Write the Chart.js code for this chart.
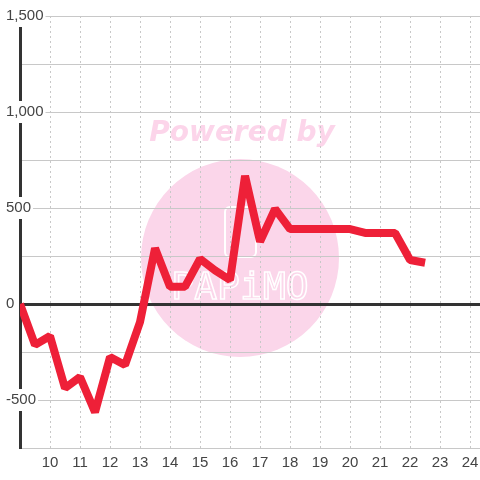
<!DOCTYPE html>
<html>
<head>
<meta charset="utf-8">
<script src="https://cdn.jsdelivr.net/npm/chart.js@4"></script>
<style>
  html, body { margin: 0; padding: 0; background: #ffffff; }
  #wrap { width: 480px; height: 480px; }
</style>
</head>
<body>
<div id="wrap"><canvas id="grafica" width="480" height="480"></canvas></div>
<script>
// data
var xValues = [9, 9.5, 10, 10.5, 11, 11.5, 12, 12.5, 13, 13.5, 14, 14.5, 15, 15.5,
               16, 16.5, 17, 17.5, 18, 18.5, 19, 19.5, 20, 20.5, 21, 21.5, 22, 22.5];
var yValues = [0, -213, -167, -438, -380, -563, -276, -318, -94, 290, 90, 90, 235, 175,
               125, 667, 325, 495, 390, 390, 390, 390, 390, 370, 370, 370, 229, 215];
var xTicks = [10, 11, 12, 13, 14, 15, 16, 17, 18, 19, 20, 21, 22, 23, 24];
var yTicks = [-750, -500, -250, 0, 250, 500, 750, 1000, 1250, 1500];
var yLabelTicks = [-500, 0, 500, 1000, 1500];

var points = xValues.map(function (x, i) { return { x: x, y: yValues[i] }; });

// pink watermark behind the grid
var watermark = {
  id: 'watermark',
  beforeDraw: function (chart) {
    var ctx = chart.ctx;
    ctx.save();
    ctx.fillStyle = '#fbd6ea';
    ctx.beginPath();
    ctx.arc(240, 258, 99, 0, Math.PI * 2);
    ctx.fill();
    ctx.font = 'italic bold 28px "DejaVu Sans"';
    ctx.textAlign = 'center';
    ctx.textBaseline = 'middle';
    ctx.fillStyle = '#fcd5ea';
    ctx.fillText('Powered by', 242, 134);
    ctx.strokeStyle = '#ffffff';
    ctx.lineWidth = 2;
    ctx.beginPath();
    ctx.roundRect(225, 207, 31, 50, 5);
    ctx.stroke();
    ctx.lineWidth = 1.5;
    ctx.font = '38px "DejaVu Sans Mono"';
    ctx.strokeText('PAPiMO', 240, 289);
    ctx.restore();
  }
};

var micanvas = document.getElementById('grafica').getContext('2d');
var chart = new Chart(micanvas, {
  type: 'line',
  data: {
    datasets: [{
      label: 'serie',
      data: points,
      borderColor: '#ee2038',
      borderWidth: 8,
      borderJoinStyle: 'bevel',
      pointRadius: 0,
      tension: 0,
      fill: false
    }]
  },
  options: {
    responsive: false,
    animation: false,
    layout: { padding: { left: 6, top: 16, right: 0, bottom: 0 } },
    plugins: { legend: { display: false }, tooltip: { enabled: false } },
    scales: {
      x: {
        type: 'linear',
        min: 9,
        max: 24.33,
        afterBuildTicks: function (scale) {
          scale.ticks = xTicks.map(function (v) { return { value: v }; });
        },
        afterFit: function (scale) {
          scale.height = 32;
          scale.paddingLeft = 0;
          scale.paddingRight = 0;
        },
        grid: { color: '#c8c8c8', lineWidth: 1, drawTicks: false },
        border: { display: false, dash: [2, 3] },
        ticks: {
          padding: 6,
          color: '#444',
          font: { family: 'Liberation Sans', size: 15 },
          maxRotation: 0,
          autoSkip: false
        }
      },
      y: {
        min: -750,
        max: 1500,
        afterBuildTicks: function (scale) {
          scale.ticks = yTicks.map(function (v) { return { value: v }; });
        },
        afterFit: function (scale) {
          scale.width = 14;
          scale.paddingTop = 0;
          scale.paddingBottom = 0;
        },
        grid: {
          drawTicks: false,
          color: function (c) { return c.tick && c.tick.value === 0 ? '#333333' : '#c8c8c8'; },
          lineWidth: function (c) { return c.tick && c.tick.value === 0 ? 3 : 1; }
        },
        border: { display: true, color: '#333333', width: 3 },
        ticks: {
          mirror: true,
          padding: -14,
          color: '#444',
          font: { family: 'Liberation Sans', size: 15 },
          autoSkip: false,
          showLabelBackdrop: function (c) { return yLabelTicks.indexOf(c.tick.value) >= 0; },
          backdropColor: '#ffffff',
          backdropPadding: 2,
          callback: function (v) {
            return yLabelTicks.indexOf(v) >= 0 ? v.toLocaleString('en-US') : '';
          }
        }
      }
    }
  },
  plugins: [watermark]
});
</script>
</body>
</html>
